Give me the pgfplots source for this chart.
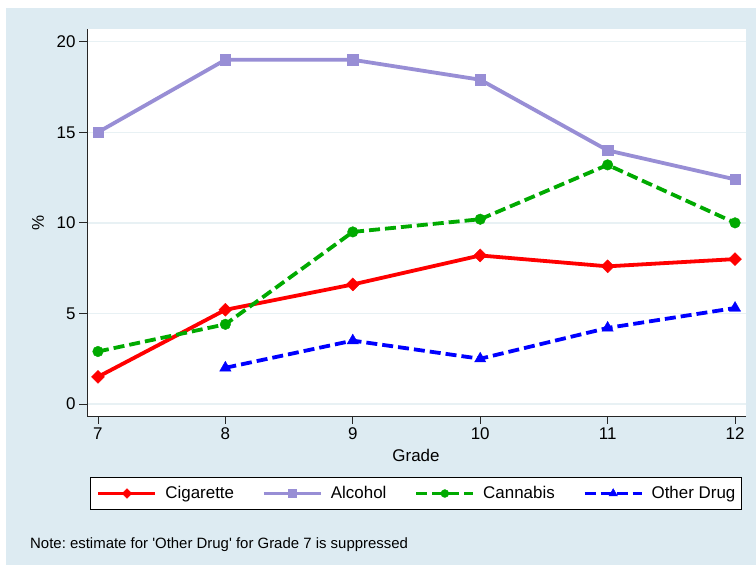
\documentclass[border=0pt]{standalone}
\usepackage{pgfplots}
\pgfplotsset{compat=1.18}
\usepackage{fontspec}
\setmainfont{Liberation Sans}[Ligatures=TeXOff]
\frenchspacing
\definecolor{bgblue}{RGB}{221,235,242}
\definecolor{gridc}{RGB}{232,241,244}
\definecolor{cig}{RGB}{255,0,0}
\definecolor{alc}{RGB}{152,142,213}
\definecolor{can}{RGB}{0,170,0}
\definecolor{oth}{RGB}{0,0,255}
\begin{document}
\begin{tikzpicture}
\useasboundingbox (0,0) rectangle (756bp,565bp);
\fill[bgblue] (6bp,0) rectangle (756bp,557bp);
\begin{axis}[
  at={(87bp,149bp)}, anchor=south west,
  scale only axis, width=659bp, height=387bp,
  xmin=6.914, xmax=12.086, ymin=-0.66, ymax=20.7,
  axis x line*=bottom, axis y line*=left,
  axis line style={-, draw=black!85, line width=0.8bp},
  axis background/.style={fill=white},
  xtick={7,8,9,10,11,12}, ytick={0,5,10,15,20},
  ymajorgrids, grid style={color=gridc, line width=1.3bp},
  tick align=outside, major tick length=8bp,
  tick style={draw=black!85, line width=0.8bp},
  /pgf/number format/assume math mode=true,
  ticklabel style={font=\fontsize{17}{20}\selectfont},
  xlabel={Grade}, ylabel={\%},
  every axis x label/.style={at={(axis description cs:0.4992,-0.1163)}, anchor=base, font=\fontsize{17}{20}\selectfont},
  every axis y label/.style={at={(axis description cs:-0.0744,0.5)}, rotate=90, anchor=center, font=\fontsize{17}{20}\selectfont},
  legend columns=4,
  legend style={at={(axis description cs:0.4992,-0.2003)}, anchor=center,
    draw=black, line width=0.8bp, fill=white,
    font=\fontsize{17}{20}\selectfont,
    inner xsep=6bp, inner ysep=9bp,
    nodes={inner sep=0pt},
    /tikz/every odd column/.append style={column sep=8bp},
    /tikz/every even column/.append style={column sep=28bp}},
  legend image code/.code={\draw[mark repeat=2,mark phase=2, mark size=0.75*\pgfplotmarksize] plot coordinates {(0bp,0bp) (28.5bp,0bp) (57bp,0bp)};},
]
\addplot[cig, line width=3.8bp, mark=square*, mark size=4.6bp, mark options={solid, rotate=45, line width=0.4bp}]
  coordinates {(7,1.5) (8,5.2) (9,6.6) (10,8.2) (11,7.6) (12,8.0)};
\addlegendentry{Cigarette}
\addplot[alc, line width=3.8bp, mark=square*, mark size=5.2bp, mark options={solid, line width=0.4bp}]
  coordinates {(7,15.0) (8,19.0) (9,19.0) (10,17.9) (11,14.0) (12,12.4)};
\addlegendentry{Alcohol}
\addplot[can, line width=3.8bp, dash pattern=on 11bp off 5bp, mark=*, mark size=5.3bp, mark options={solid, line width=0.4bp}]
  coordinates {(7,2.9) (8,4.4) (9,9.5) (10,10.2) (11,13.2) (12,10.0)};
\addlegendentry{Cannabis}
\addplot[oth, line width=3.8bp, dash pattern=on 11bp off 5bp, mark=triangle*, mark size=6.5bp, mark options={solid, line width=0.4bp}]
  coordinates {(8,2.0) (9,3.5) (10,2.5) (11,4.2) (12,5.3)};
\addlegendentry{Other Drug}
\end{axis}
\node[anchor=base west, font=\fontsize{15}{18}\selectfont, inner sep=0pt] at (30bp,17bp) {Note: estimate for 'Other Drug' for Grade 7 is suppressed};
\end{tikzpicture}
\end{document}
